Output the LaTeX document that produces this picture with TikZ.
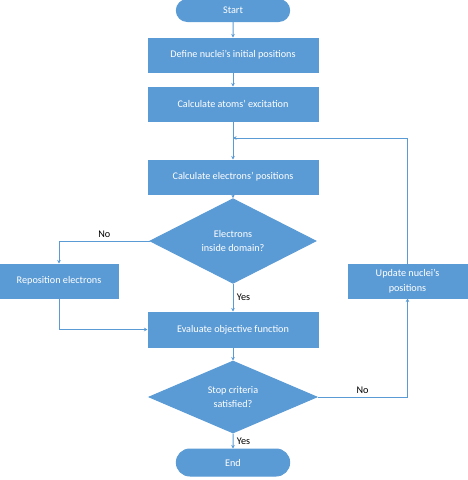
\documentclass[tikz,border=0pt]{standalone}
\usepackage{fontspec}
\setmainfont{Carlito}
\usetikzlibrary{arrows.meta,shapes.geometric,shapes.misc}
\definecolor{flowblue}{RGB}{91,155,213}

\begin{document}
\begin{tikzpicture}[x=1pt, y=-1pt, ->, >={Stealth[length=3.5pt,width=3.5pt]},
      color=flowblue, line width=1pt,
      every node/.append style={font=\fontsize{10.2}{14.5}\selectfont}]
    \tikzstyle{proc} = [rectangle, fill=flowblue, draw=flowblue, text=white, minimum width=170pt, minimum height=34pt, align=center]
    \tikzstyle{decision} = [diamond, fill=flowblue, draw=flowblue, text=white, minimum width=166pt, minimum height=67pt, inner sep=0pt, align=center]
    \tikzstyle{term} = [rounded rectangle, fill=flowblue, draw=flowblue, text=white, minimum width=120pt, minimum height=22pt]
    \tikzstyle{answer} = [text=black]
    \useasboundingbox (0,0) rectangle (467,480);
    \node (start) [term] at (233,10.5) {Start};
    \node (define) [proc] at (233,55) {Define nuclei's initial positions};
    \node (atoms) [proc] at (233,104) {Calculate atoms' excitation};
    \node (electrons) [proc] at (233,177) {Calculate electrons' positions};
    \node (inside) [decision] at (233,241) {Electrons\\inside domain?};
    \node (repos) [proc, minimum width=118pt] at (59,281) {Reposition electrons};
    \node (update) [proc, minimum width=119pt] at (407.5,281) {Update nuclei's\\positions};
    \node (evaluate) [proc, minimum height=35pt] at (233,329.5) {Evaluate objective function};
    \node (stop) [decision, minimum width=168pt, minimum height=70pt] at (233,397) {Stop criteria\\satisfied?};
    \node (end) [term, minimum height=27pt] at (233,462.5) {End};
    \coordinate (merge) at (233,138);
    \draw (start) -- (define);
    \draw (define) -- (atoms);
    \draw (atoms) -- (electrons);
    \draw (electrons) -- (inside);
    \draw (inside.west) -| node[pos=0.25, above, answer] {No} (repos);
    \draw (repos) |- (evaluate);
    \draw (inside) -- node[right, answer] {Yes} (evaluate);
    \draw (evaluate) -- (stop);
    \draw (stop) -- node[right, answer] {Yes} (end);
    \draw (stop.east) -| node[pos=0.25, above, answer] {No} (update);
    \draw (update.north) |- (merge);
\end{tikzpicture}
\end{document}
